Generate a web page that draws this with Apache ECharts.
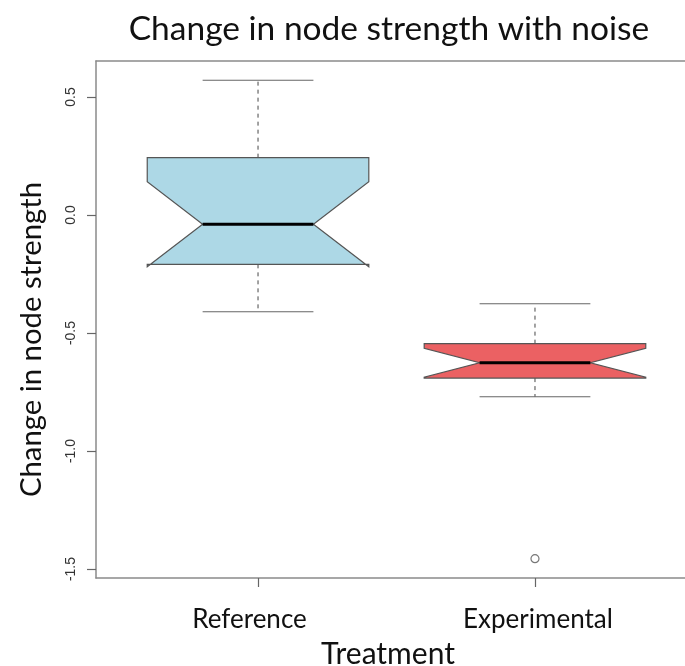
<!DOCTYPE html>
<html>
<head>
<meta charset="utf-8">
<script src="https://cdn.jsdelivr.net/npm/echarts@6/dist/echarts.min.js"></script>
<style>
html,body{margin:0;padding:0;background:#fff;}
#chart{width:685px;height:666px;}
</style>
</head>
<body>
<div id="chart"></div>
<script>
// ---- data ----
const categories   = ['Reference', 'Experimental'];
const whiskerLow   = [-0.410, -0.770];
const q1           = [-0.209, -0.691];
const notchLow     = [-0.219, -0.687];
const median       = [-0.039, -0.626];
const notchHigh    = [ 0.141, -0.565];
const q3           = [ 0.243, -0.545];
const whiskerHigh  = [ 0.571, -0.376];
const boxColors    = ['#ADD8E6', '#EB6163'];
const outlierCategory = ['Experimental'];
const outlierValue    = [-1.456];
const yTicks = [-1.5, -1.0, -0.5, 0.0, 0.5];

const boxData = categories.map((c, i) => [i + 1, whiskerLow[i], q1[i], notchLow[i], median[i], notchHigh[i], q3[i], whiskerHigh[i]]);
const outlierData = outlierCategory.map((c, i) => [categories.indexOf(c) + 1, outlierValue[i]]);

const FONT = 'Lato';
const FRAME = {color: '#8a8a8a', width: 1.5};
const chart = echarts.init(document.getElementById('chart'), null, {renderer: 'canvas'});

function renderBox(params, api) {
  const x = api.value(0);
  const wl = api.value(1), lq = api.value(2), nl = api.value(3), md = api.value(4),
        nh = api.value(5), uq = api.value(6), wh = api.value(7);
  const hw = 0.4, nw = 0.2, cw = 0.2;
  const p = (dx, v) => api.coord([x + dx, v]);
  const idx = params.dataIndex;
  const edge = '#555555';
  const poly = [
    p(-hw, lq), p(-hw, nl), p(-nw, md), p(-hw, nh), p(-hw, uq),
    p(hw, uq), p(hw, nh), p(nw, md), p(hw, nl), p(hw, lq)
  ];
  const line = (name, a, b, extra) => ({
    type: 'line',
    name: name,
    shape: {x1: a[0], y1: a[1], x2: b[0], y2: b[1]},
    style: Object.assign({stroke: '#666666', lineWidth: 1.2}, extra || {})
  });
  return {
    type: 'group',
    children: [
      line('wu', p(0, uq), p(0, wh), {lineDash: [4, 4]}),
      line('wd', p(0, lq), p(0, wl), {lineDash: [4, 4]}),
      line('cu', p(-cw, wh), p(cw, wh)),
      line('cd', p(-cw, wl), p(cw, wl)),
      {
        type: 'polygon',
        name: 'box',
        shape: {points: poly},
        style: {fill: boxColors[idx], stroke: edge, lineWidth: 1.2}
      },
      line('med', p(-nw, md), p(nw, md), {stroke: '#000000', lineWidth: 3})
    ]
  };
}

const xMin = 0.415, xMax = 2.585;

const option = {
  backgroundColor: '#ffffff',
  animation: false,
  title: {
    text: 'Change in node strength with noise',
    left: 384,
    top: 7,
    textAlign: 'center',
    textStyle: {fontFamily: FONT, fontSize: 33.5, fontWeight: 'normal', color: '#111'}
  },
  grid: {left: 96, top: 61, width: 601, height: 517, outerBoundsMode: 'none', containLabel: false, show: false},
  xAxis: [{
    type: 'value',
    position: 'bottom',
    min: xMin,
    max: xMax,
    name: 'Treatment',
    nameLocation: 'middle',
    nameGap: 61,
    nameTextStyle: {fontFamily: FONT, fontSize: 30, color: '#111', padding: [0, 17, 0, 0]},
    splitLine: {show: false},
    axisLine: {show: true, onZero: false, lineStyle: FRAME},
    axisTick: {show: true, customValues: [1, 2], length: 9, lineStyle: {color: '#666', width: 1.2}},
    axisLabel: {
      customValues: [1, 2],
      margin: 29,
      fontFamily: FONT, fontSize: 26, color: '#111',
      formatter: v => {
        const name = categories[Math.round(v) - 1];
        return Math.round(v) === 1 ? '{a|' + name + '}' : '{b|' + name + '}';
      },
      rich: {
        a: {fontFamily: FONT, fontSize: 26, color: '#111', padding: [0, 17, 0, 0]},
        b: {fontFamily: FONT, fontSize: 26, color: '#111', padding: [0, 0, 0, 6]}
      }
    }
  }, {
    type: 'value',
    position: 'top',
    min: xMin,
    max: xMax,
    splitLine: {show: false},
    axisLine: {show: true, onZero: false, lineStyle: FRAME},
    axisTick: {show: false},
    axisLabel: {show: false}
  }],
  yAxis: {
    type: 'value',
    min: -1.538,
    max: 0.6525,
    name: 'Change in node strength',
    nameLocation: 'middle',
    nameGap: 50,
    nameRotate: 90,
    nameTextStyle: {fontFamily: FONT, fontSize: 29.3, color: '#111', padding: [0, 40, 0, 0]},
    splitLine: {show: false},
    axisLine: {show: true, onZero: false, lineStyle: FRAME},
    axisTick: {show: true, customValues: yTicks, length: 9, lineStyle: {color: '#666', width: 1.2}},
    axisLabel: {
      customValues: yTicks,
      rotate: 90,
      margin: 18,
      fontFamily: 'Liberation Sans', fontSize: 14, color: '#333',
      formatter: v => v.toFixed(1)
    }
  },
  series: [
    {
      type: 'custom',
      name: 'boxes',
      renderItem: renderBox,
      encode: {x: 0, y: [1, 2, 3, 4, 5, 6, 7]},
      data: boxData,
      clip: false,
      z: 2
    },
    {
      type: 'scatter',
      name: 'outliers',
      symbol: 'circle',
      symbolSize: 8,
      itemStyle: {color: '#ffffff', borderColor: '#555555', borderWidth: 1.2},
      data: outlierData,
      z: 3
    }
  ]
};
chart.setOption(option);
</script>
</body>
</html>
